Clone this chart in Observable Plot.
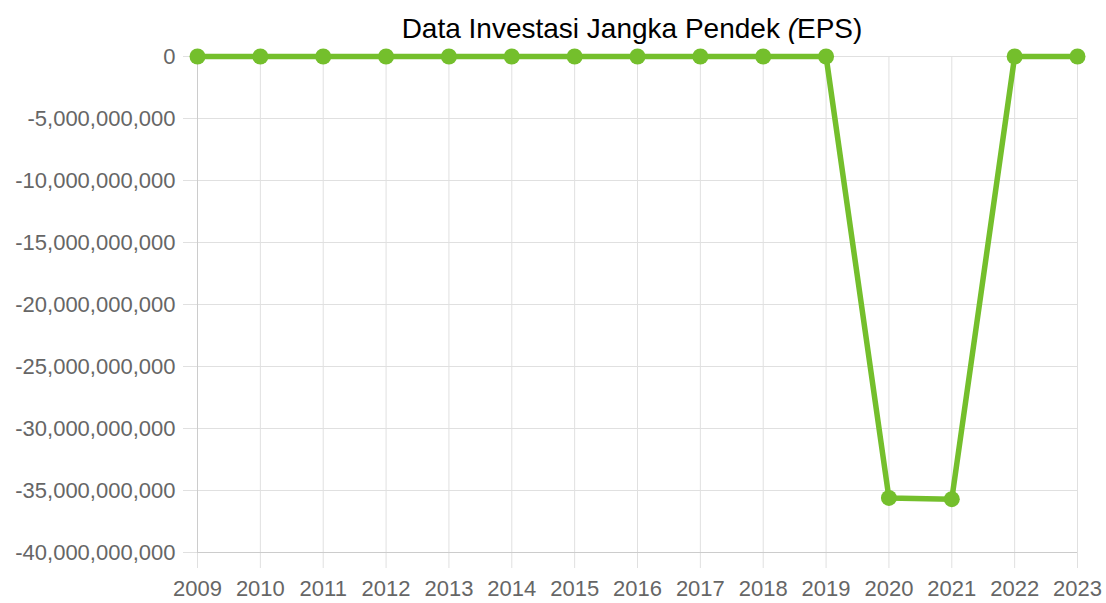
<!DOCTYPE html>
<html><head><meta charset="utf-8">
<script src="https://cdn.jsdelivr.net/npm/d3@7"></script>
<script src="https://cdn.jsdelivr.net/npm/@observablehq/plot@0.6"></script>
<style>
body{margin:0;background:#fff}
#wrap{position:relative;width:1106px;height:603px}
#title{position:absolute;left:632px;top:13px;transform:translateX(-50%);white-space:nowrap;font-family:"Liberation Sans",Arial,sans-serif;font-size:28px;line-height:32px;color:#000}
</style>
</head><body>
<div id="wrap"><div id="title">Data Investasi Jangka Pendek <i>(</i>EPS)</div></div>
<script>
const years = [2009,2010,2011,2012,2013,2014,2015,2016,2017,2018,2019,2020,2021,2022,2023];
const values = [0,0,0,0,0,0,0,0,0,0,0,-35600000000,-35700000000,0,0];
const yTicks = [0,-5e9,-10e9,-15e9,-20e9,-25e9,-30e9,-35e9,-40e9];
const data = years.map((y,i)=>({year:y,value:values[i]}));
const green = "#74bf2c";
const grid = "#e0e0e0";
const chart = Plot.plot({
  width:1106, height:603,
  marginLeft:197, marginRight:29, marginTop:56, marginBottom:51,
  style:{fontFamily:"'Liberation Sans', Arial, sans-serif", fontSize:"22px", color:"#666", background:"transparent"},
  x:{type:"linear", domain:[years[0], years[years.length-1]], inset:0, label:null},
  y:{domain:[-40e9,0], inset:0, label:null},
  marks:[
    Plot.gridX(years,{stroke:grid, strokeOpacity:1}),
    Plot.gridY(yTicks,{stroke:grid, strokeOpacity:1}),
    Plot.axisX(years,{tickSize:16, tickPadding:12, stroke:grid, tickFormat:d=>String(d), fill:"#666", label:null}),
    Plot.axisY(yTicks,{tickSize:14, tickPadding:8, stroke:grid, tickFormat:d=>d.toLocaleString("en-US"), fill:"#666", label:null}),
    Plot.ruleX([years[0]],{stroke:"#cccccc"}),
    Plot.ruleY([-40e9],{stroke:"#cccccc"}),
    Plot.line(data,{x:"year", y:"value", stroke:green, strokeWidth:5.5}),
    Plot.dot(data,{x:"year", y:"value", r:8, fill:green, stroke:"none"})
  ]
});
chart.style.position="absolute"; chart.style.left="0"; chart.style.top="0";
document.getElementById("wrap").prepend(chart);
</script>
</body></html>
